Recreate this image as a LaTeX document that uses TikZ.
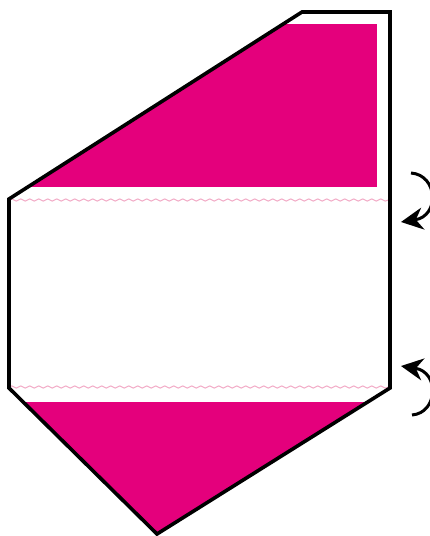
\documentclass[tikz,border=0pt]{standalone}
\usetikzlibrary{arrows.meta,decorations.pathmorphing}
\definecolor{paperpink}{RGB}{228,0,124}
\definecolor{creasepink}{RGB}{242,170,198}
\tikzset{
  outline/.style={line width=3.6pt, black, line join=miter},
  crease/.style={creasepink, line width=1pt, decorate, decoration={snake, amplitude=1.1pt, segment length=9pt}},
  turnarrow/.style={line width=3pt, black, -{Stealth[length=22pt,width=22pt,inset=7pt]}}
}
\begin{document}
\begin{tikzpicture}[x=1pt,y=-1pt]
\useasboundingbox (0,0) rectangle (429,536);
% outline corners
\coordinate (tl) at (302,12);
\coordinate (tr) at (390,12);
\coordinate (rb) at (390,388);
\coordinate (bp) at (157,534);
\coordinate (lb) at (9,388);
\coordinate (lt) at (9,199);
% pink regions
\begin{scope}
  \clip (tl) -- (tr) -- (rb) -- (bp) -- (lb) -- (lt) -- cycle;
  \fill[paperpink] (0,24) rectangle (377,187);
  \fill[paperpink] (0,402) rectangle (429,540);
\end{scope}
% creases
\coordinate (c1a) at (9,200);
\coordinate (c1b) at (390,200);
\coordinate (c2a) at (9,387);
\coordinate (c2b) at (390,387);
\draw[crease] (c1a) -- (c1b);
\draw[crease] (c2a) -- (c2b);
% outline
\draw[outline] (tl) -- (tr) -- (rb) -- (bp) -- (lb) -- (lt) -- cycle;
% arrows
\coordinate (a1s) at (411,173);
\coordinate (a1e) at (401,222);
\coordinate (a2s) at (412,415);
\coordinate (a2e) at (401,366);
\draw[turnarrow] (a1s) .. controls (438,175) and (440,216) .. (a1e);
\draw[turnarrow] (a2s) .. controls (438,413) and (440,372) .. (a2e);
\end{tikzpicture}
\end{document}
